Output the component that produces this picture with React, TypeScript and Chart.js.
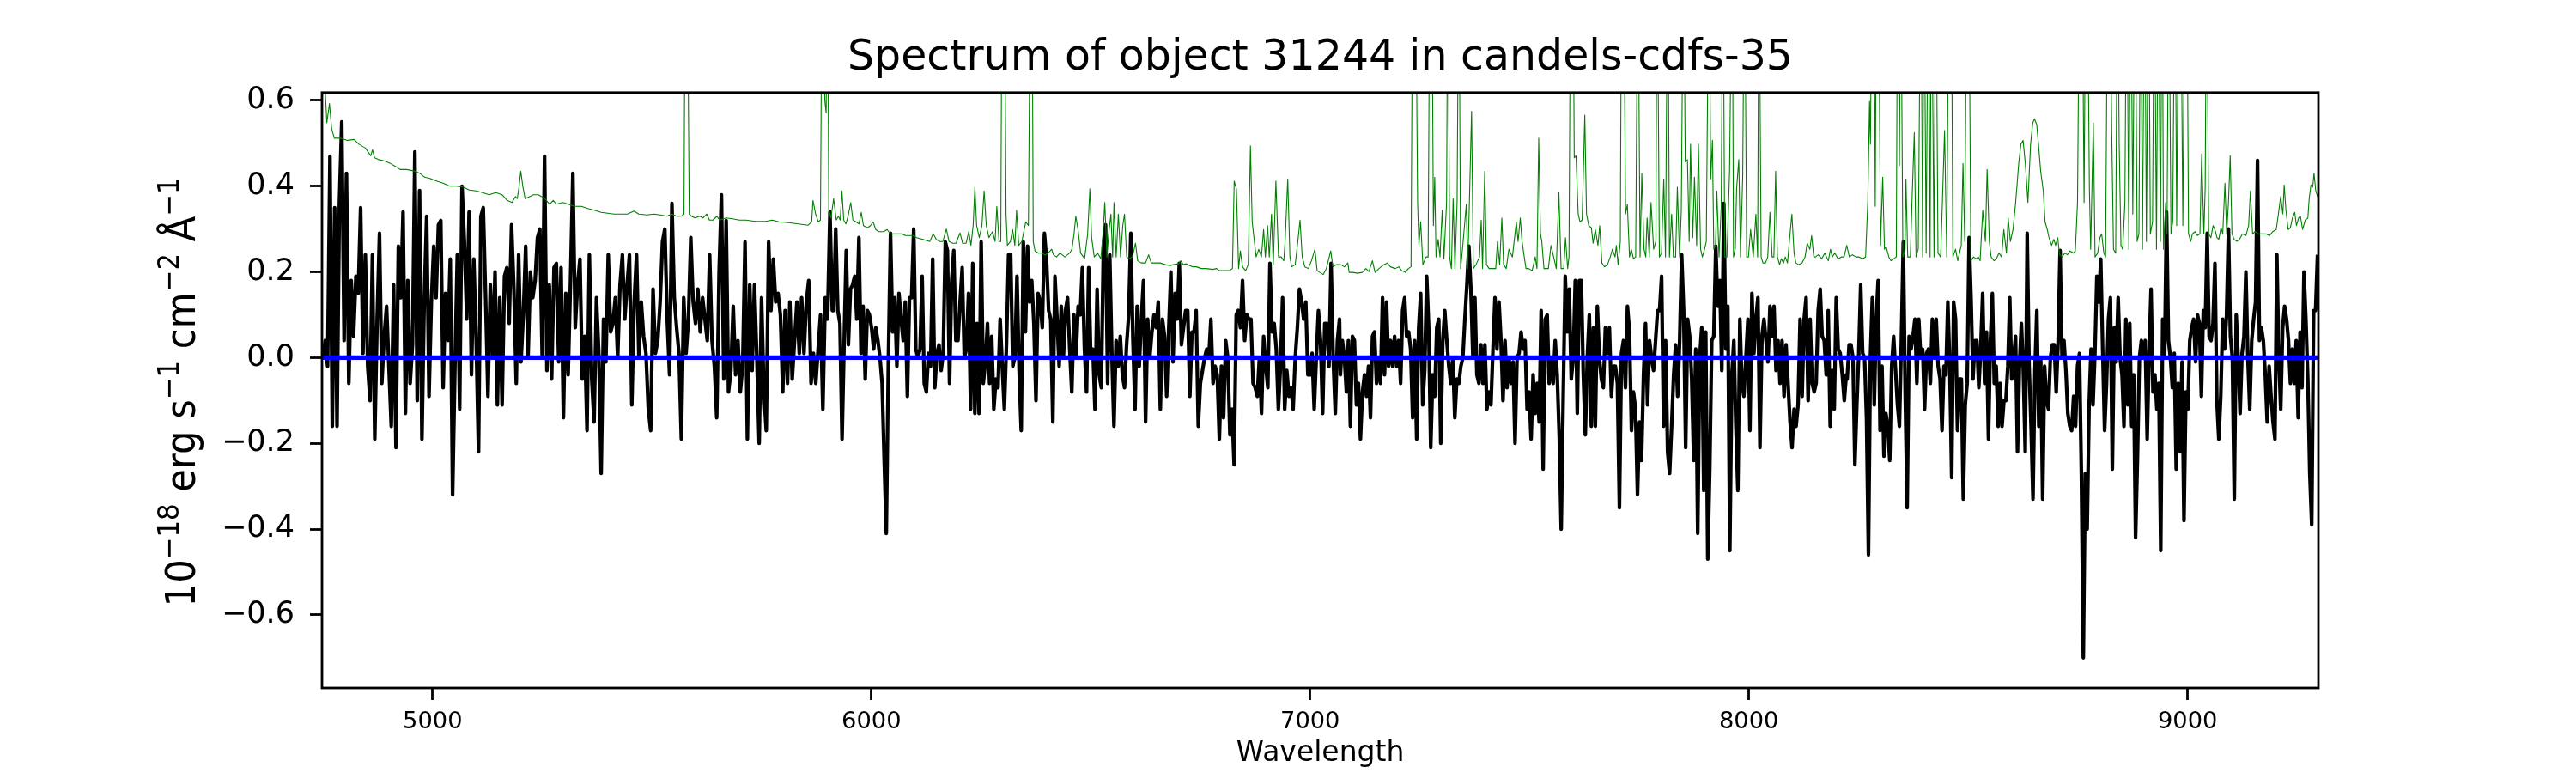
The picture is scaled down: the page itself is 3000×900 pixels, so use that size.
import React, { useEffect, useRef } from 'react';
import { Chart, registerables } from 'chart.js';

Chart.register(...registerables);

const TITLE = 'Spectrum of object 31244 in candels-cdfs-35';
const X_TITLE = 'Wavelength';
// y label pieces: [text, isSuperscript]
const Y_TITLE_PARTS: [string, boolean][] = [
  ['10', false], ['−18', true], [' erg s', false], ['−1', true], [' cm', false], ['−2', true], [' Å', false], ['−1', true],
];

const X_MIN = 4748;
const X_MAX = 9298;
const Y_MIN = -0.7705;
const Y_MAX = 0.6184;

const xTickValues = [5000, 6000, 7000, 8000, 9000];
const xTickLabels = ['5000', '6000', '7000', '8000', '9000'];
const yTickValues = [-0.6, -0.4, -0.2, 0.0, 0.2, 0.4, 0.6];
const yTickLabels = ['−0.6', '−0.4', '−0.2', '0.0', '0.2', '0.4', '0.6'];

// observed flux, four wavelength segments sampled evenly inside each
const fluxRangeA = [4750, 5911];
const fluxA = [
  0.00, 0.04, -0.02, 0.47, -0.16, 0.35, -0.16, 0.36, 0.55, 0.04, 0.43, -0.06, 0.18, 0.05, 0.19, 0.15, 0.35, 0.01, 0.24, -0.02,
  -0.10, 0.24, -0.19, 0.09, 0.29, -0.06, 0.05, 0.12, -0.02, -0.16, 0.17, -0.21, 0.26, 0.14, 0.34, -0.13, 0.18, -0.06, 0.03, 0.48,
  -0.10, 0.39, -0.19, 0.14, 0.33, -0.09, 0.13, 0.26, 0.14, 0.31, 0.32, -0.07, 0.15, 0.04, 0.23, -0.32, -0.02, 0.24, -0.12, 0.40,
  0.27, 0.09, 0.34, -0.04, 0.23, 0.04, -0.22, 0.33, 0.35, 0.14, -0.09, 0.17, 0.00, 0.20, -0.11, 0.14, -0.11, 0.19, 0.21, 0.08,
  0.31, 0.16, -0.06, 0.24, -0.01, 0.10, 0.26, 0.00, 0.20, 0.14, 0.18, 0.28, 0.30, 0.00, 0.47, -0.03, 0.17, -0.05, 0.21, 0.22,
  -0.01, 0.21, -0.14, 0.15, -0.04, 0.18, 0.43, 0.07, 0.17, 0.23, -0.05, 0.05, -0.17, 0.24, -0.05, -0.15, 0.14, 0.01, -0.27, 0.09,
  -0.01, 0.24, 0.06, 0.08, 0.14, 0.00, 0.17, 0.24, 0.09, 0.17, 0.24, -0.11, 0.13, 0.24, 0.00, 0.13, 0.05, 0.01, -0.12, -0.17,
  0.16, 0.01, 0.04, 0.13, 0.27, 0.30, 0.09, -0.04, 0.36, 0.14, 0.07, 0.01, -0.19, 0.14, 0.01, 0.09, 0.28, 0.13, 0.08, 0.16,
  0.06, 0.14, 0.09, 0.04, 0.24, 0.04, -0.02, -0.14, 0.20, 0.38, -0.05, 0.32, -0.08, -0.03, 0.12, -0.04, 0.04, -0.08, -0.02, 0.27,
  -0.19, 0.17, -0.03, 0.17, 0.00, -0.20, 0.14, -0.08, -0.17, 0.27, 0.11, 0.23, 0.13, 0.15, 0.10, -0.08, 0.11, -0.06, 0.13, -0.05,
  0.04, 0.13, 0.01, 0.14, 0.01, 0.13, 0.18, -0.06, 0.01, -0.06, 0.02, 0.10, -0.12, 0.14, 0.09, 0.34, 0.11,
];

const fluxRangeB = [5914, 7067];
const fluxB = [
  0.11, 0.30, 0.11, 0.08, -0.19, 0.04, 0.25, 0.03, 0.16, 0.17, 0.19, 0.09, 0.28, 0.01, 0.12, -0.05, 0.11, 0.10, 0.07, 0.02,
  0.07, 0.04, 0.00, -0.06, -0.24, -0.41, 0.00, 0.29, 0.06, 0.14, -0.02, 0.15, 0.09, 0.04, 0.13, -0.09, 0.14, 0.14, 0.30, 0.02,
  0.00, 0.02, 0.19, -0.06, -0.08, 0.01, -0.02, 0.23, -0.07, 0.01, 0.03, -0.03, 0.01, 0.27, 0.25, -0.06, 0.18, 0.25, 0.04, 0.04,
  0.13, 0.21, 0.00, 0.02, 0.15, -0.12, 0.22, -0.13, 0.08, -0.13, 0.27, -0.06, -0.01, 0.08, -0.06, 0.05, -0.12, -0.05, -0.07, 0.09,
  -0.02, -0.12, 0.03, 0.24, 0.24, -0.02, 0.00, 0.19, -0.03, -0.17, 0.27, 0.06, 0.26, 0.13, 0.18, 0.08, -0.10, 0.15, 0.13, 0.07,
  0.29, 0.23, 0.11, 0.09, -0.15, 0.19, 0.09, -0.02, 0.12, 0.00, 0.11, 0.14, 0.02, -0.08, 0.10, 0.00, 0.12, 0.10, 0.21, 0.02,
  -0.08, 0.21, 0.00, 0.02, -0.12, 0.16, -0.04, -0.07, 0.26, 0.31, -0.06, 0.24, 0.01, -0.16, 0.04, -0.02, 0.05, -0.04, -0.07, 0.03,
  0.10, 0.29, 0.04, -0.12, 0.12, -0.02, 0.09, 0.18, -0.15, 0.09, 0.00, 0.06, 0.10, 0.07, 0.13, -0.12, 0.09, 0.05, -0.09, 0.07,
  0.20, -0.01, 0.15, 0.09, 0.22, 0.03, 0.07, 0.11, 0.11, -0.09, 0.06, 0.06, 0.11, -0.16, -0.06, -0.03, 0.00, 0.02, 0.00, 0.09,
  -0.06, -0.02, -0.04, -0.19, -0.02, -0.14, 0.04, 0.00, -0.18, -0.12, -0.25, 0.10, 0.11, 0.07, 0.18, 0.04, 0.10, 0.09, 0.09, -0.06,
  -0.07, -0.09, 0.00, -0.13, 0.05, -0.02, -0.07, 0.22, 0.06, 0.08, 0.02, -0.12, -0.02, 0.14, -0.12, -0.03, -0.09, -0.07, -0.12, 0.00,
  0.07, 0.16, 0.13, 0.09, 0.13, -0.04, -0.04, 0.01, -0.12, 0.00, 0.11, 0.04, -0.13, 0.08, 0.08, -0.02, 0.22, 0.00, -0.13, 0.04,
  0.09,
];

const fluxRangeC = [7069, 8222];
const fluxC = [
  -0.04, 0.04, 0.00, -0.08, 0.04, -0.16, 0.05, 0.04, -0.11, -0.06, -0.19, -0.08, -0.04, -0.09, -0.02, -0.14, 0.05, 0.06, -0.06, 0.00,
  -0.06, 0.14, -0.04, 0.13, -0.02, 0.04, -0.02, 0.05, -0.02, 0.04, -0.06, 0.11, 0.14, 0.05, 0.06, 0.02, -0.14, 0.04, -0.19, 0.07,
  0.15, -0.11, -0.03, 0.19, 0.07, -0.21, -0.04, -0.09, 0.07, 0.09, -0.20, 0.04, 0.11, 0.04, -0.02, -0.06, 0.00, -0.14, -0.05, -0.06,
  -0.02, 0.00, 0.09, 0.17, 0.26, 0.16, 0.00, 0.14, -0.04, -0.06, 0.03, -0.06, 0.03, -0.12, -0.08, -0.11, 0.02, 0.14, 0.02, 0.13,
  0.04, -0.10, 0.04, -0.07, 0.00, -0.06, -0.01, -0.20, 0.00, 0.01, 0.06, 0.02, 0.04, -0.12, -0.08, -0.19, -0.04, -0.13, -0.06, -0.15,
  0.11, -0.26, 0.09, 0.10, -0.06, 0.00, -0.06, 0.04, -0.04, -0.18, -0.40, -0.09, 0.19, 0.06, 0.16, -0.05, 0.00, 0.18, -0.13, 0.18,
  0.18, -0.04, -0.18, 0.00, 0.10, -0.16, 0.07, -0.16, 0.12, 0.00, -0.05, -0.07, 0.07, 0.01, 0.07, -0.09, -0.02, -0.02, -0.06, -0.35,
  0.01, 0.04, -0.07, 0.12, 0.06, -0.17, -0.08, -0.12, -0.32, -0.15, -0.24, -0.04, 0.08, -0.11, 0.04, 0.00, -0.03, 0.04, 0.11, 0.11,
  0.19, -0.16, 0.04, -0.22, -0.27, -0.16, -0.04, 0.03, -0.09, 0.04, 0.24, 0.11, -0.21, 0.09, 0.05, -0.05, -0.24, 0.02, -0.41, 0.00,
  0.07, -0.31, 0.06, -0.47, -0.26, 0.04, 0.05, 0.26, 0.12, 0.18, -0.03, 0.36, 0.02, 0.12, -0.45, -0.04, 0.04, -0.16, -0.31, 0.09,
  -0.06, -0.09, 0.00, 0.09, -0.17, 0.15, 0.01, 0.09, 0.14, -0.21, 0.05, 0.09, 0.04, -0.01, 0.12, 0.05, 0.12, -0.03, 0.04, -0.06,
  0.04, -0.09, 0.03, -0.06, -0.15, -0.21, -0.12, -0.16, -0.11, 0.09, -0.09, 0.09, 0.14, -0.10, 0.09, -0.06, -0.08, -0.06, 0.11, 0.16,
  0.05, 0.04, -0.04, 0.11, -0.16, -0.03, -0.12, 0.14, 0.02, 0.01, -0.04, -0.10, -0.04,
];

const fluxRangeD = [8224, 9296];
const fluxD = [
  -0.05, 0.03, 0.03, 0.00, -0.25, -0.11, 0.01, 0.17, 0.01, 0.00, -0.14, -0.46, 0.00, 0.14, -0.11, 0.09, 0.18, -0.17, -0.02, -0.23,
  -0.13, -0.16, -0.24, -0.02, 0.05, -0.03, -0.11, -0.16, 0.04, 0.27, -0.09, -0.35, 0.05, 0.02, 0.05, 0.09, -0.06, 0.09, 0.00, 0.02,
  -0.12, 0.01, 0.02, -0.06, 0.09, 0.00, 0.09, -0.02, -0.05, -0.17, -0.02, -0.04, 0.13, -0.02, -0.28, 0.13, 0.09, -0.17, -0.05, -0.05,
  -0.33, -0.11, -0.06, 0.28, 0.14, -0.05, 0.04, 0.04, -0.07, 0.02, 0.15, -0.06, 0.06, -0.19, 0.04, 0.15, -0.06, -0.02, -0.16, -0.06,
  -0.16, -0.10, -0.10, -0.02, 0.14, -0.05, 0.00, 0.05, -0.22, -0.02, 0.08, -0.03, -0.22, 0.29, -0.02, -0.16, -0.33, -0.03, 0.11, -0.16,
  0.00, -0.33, -0.02, -0.10, -0.12, 0.00, 0.03, 0.03, -0.08, 0.04, 0.25, 0.00, 0.04, -0.03, -0.13, -0.16, -0.17, -0.09, -0.16, -0.02,
  0.01, -0.27, -0.70, -0.27, -0.40, -0.11, 0.02, -0.11, 0.01, 0.19, 0.13, 0.23, 0.02, -0.17, -0.06, 0.09, 0.14, -0.26, 0.07, -0.01,
  0.14, 0.00, -0.04, -0.16, 0.09, -0.11, 0.08, -0.16, -0.04, -0.42, -0.23, 0.00, 0.04, 0.00, 0.04, -0.19, 0.01, 0.16, -0.08, -0.04,
  -0.12, -0.06, -0.45, 0.09, 0.00, 0.34, 0.04, 0.00, -0.07, 0.01, -0.26, -0.06, -0.22, -0.01, -0.38, -0.08, -0.12, 0.04, 0.07, 0.09,
  -0.01, 0.10, 0.08, -0.09, 0.11, 0.07, 0.29, 0.05, 0.04, 0.08, 0.22, -0.10, -0.19, -0.09, 0.09, 0.02, 0.10, 0.30, 0.05, 0.00,
  -0.33, 0.10, 0.00, -0.13, 0.01, 0.05, 0.20, 0.00, -0.12, 0.04, 0.09, 0.13, 0.46, 0.04, 0.07, 0.04, -0.04, -0.15, -0.02, -0.09,
  -0.15, -0.19, 0.24, 0.00, -0.12, 0.07, 0.12, 0.09, 0.04, -0.06, 0.02, -0.06, 0.04, -0.14, 0.06, -0.07, 0.20, 0.09, -0.05, -0.27,
  -0.39, 0.11, 0.11, 0.24,
];

// sky / noise spectrum: [wavelength, value]
const skyA = [
  [4750, 0.66], [4755, 0.63], [4759, 0.548], [4765, 0.593], [4770, 0.534], [4776, 0.512], [4791, 0.512], [4806, 0.507],
  [4821, 0.509], [4832, 0.498], [4847, 0.489], [4859, 0.471], [4863, 0.485], [4868, 0.466], [4877, 0.462], [4889, 0.459],
  [4904, 0.453], [4919, 0.444], [4926, 0.439], [4941, 0.439], [4956, 0.436], [4971, 0.430], [4982, 0.421], [4994, 0.418],
  [5009, 0.412], [5024, 0.407], [5039, 0.400], [5054, 0.400], [5069, 0.398], [5084, 0.391], [5099, 0.389], [5114, 0.385],
  [5129, 0.380], [5144, 0.385], [5159, 0.380], [5170, 0.367], [5181, 0.362], [5189, 0.376], [5193, 0.371], [5197, 0.398],
  [5201, 0.435], [5206, 0.398], [5211, 0.371], [5222, 0.376], [5230, 0.380], [5241, 0.380], [5256, 0.371], [5267, 0.358],
  [5275, 0.367], [5282, 0.358], [5297, 0.362], [5309, 0.358], [5324, 0.353], [5339, 0.353], [5354, 0.348], [5369, 0.344],
  [5384, 0.339], [5399, 0.337], [5414, 0.335], [5429, 0.335], [5444, 0.335], [5459, 0.342], [5470, 0.335], [5489, 0.333],
  [5504, 0.335], [5519, 0.333], [5534, 0.330], [5545, 0.335], [5556, 0.330], [5567, 0.330], [5573, 0.335], [5576, 1.0],
  [5580, 1.0], [5585, 0.335], [5590, 0.330], [5598, 0.326], [5609, 0.330], [5616, 0.326], [5625, 0.335], [5631, 0.321],
  [5639, 0.321], [5648, 0.330], [5654, 0.321], [5669, 0.326], [5684, 0.324], [5699, 0.321], [5714, 0.321], [5736, 0.318],
  [5759, 0.318], [5774, 0.321], [5789, 0.317], [5811, 0.315], [5834, 0.312], [5856, 0.309], [5864, 0.317], [5867, 0.367],
  [5873, 0.335], [5879, 0.317], [5884, 0.321], [5888, 1.0], [5894, 0.60], [5897, 0.571], [5900, 1.0],
];

const skyB = [
  [5903, 0.344], [5908, 0.326], [5914, 0.371], [5920, 0.321], [5925, 0.330], [5929, 0.321], [5933, 0.389], [5937, 0.321],
  [5942, 0.312], [5947, 0.330], [5953, 0.362], [5958, 0.321], [5965, 0.317], [5972, 0.312], [5977, 0.339], [5982, 0.308],
  [5991, 0.303], [5998, 0.308], [6004, 0.317], [6010, 0.299], [6017, 0.294], [6028, 0.294], [6036, 0.299], [6043, 0.289],
  [6058, 0.289], [6070, 0.289], [6077, 0.285], [6088, 0.285], [6096, 0.285], [6103, 0.280], [6118, 0.276], [6133, 0.271],
  [6141, 0.289], [6148, 0.276], [6156, 0.271], [6163, 0.271], [6171, 0.300], [6177, 0.271], [6186, 0.267], [6193, 0.267],
  [6202, 0.291], [6208, 0.267], [6216, 0.267], [6222, 0.294], [6227, 0.262], [6232, 0.308], [6236, 0.398], [6240, 0.308],
  [6246, 0.280], [6252, 0.308], [6257, 0.389], [6262, 0.308], [6268, 0.280], [6276, 0.294], [6282, 0.271], [6286, 0.353],
  [6291, 0.271], [6295, 0.271], [6298, 1.0], [6303, 1.0], [6307, 0.335], [6310, 0.262], [6317, 0.271], [6322, 0.299],
  [6327, 0.262], [6331, 0.344], [6336, 0.262], [6343, 0.271], [6352, 0.317], [6358, 0.308], [6363, 1.0], [6366, 1.0],
  [6369, 0.271], [6373, 0.249], [6381, 0.244], [6388, 0.244], [6396, 0.240], [6403, 0.244], [6411, 0.253], [6415, 0.240],
  [6422, 0.235], [6430, 0.244], [6441, 0.235], [6452, 0.244], [6457, 0.253], [6462, 0.289], [6466, 0.330], [6471, 0.299],
  [6477, 0.244], [6486, 0.231], [6493, 0.289], [6498, 0.394], [6502, 0.280], [6508, 0.235], [6516, 0.244], [6523, 0.231],
  [6528, 0.289], [6532, 0.362], [6537, 0.235], [6541, 0.289], [6546, 0.335], [6550, 0.235], [6553, 0.362], [6558, 0.235],
  [6563, 0.335], [6568, 0.235], [6573, 0.308], [6577, 0.335], [6582, 0.235], [6587, 0.231], [6595, 0.235], [6602, 0.267],
  [6607, 0.226], [6615, 0.221], [6625, 0.221], [6632, 0.240], [6638, 0.221], [6647, 0.221], [6658, 0.221], [6670, 0.217],
  [6681, 0.215], [6688, 0.217], [6700, 0.219], [6705, 0.226], [6711, 0.217], [6718, 0.219], [6726, 0.215], [6733, 0.212],
  [6741, 0.212], [6752, 0.208], [6763, 0.208], [6778, 0.206], [6787, 0.208], [6793, 0.203], [6805, 0.203], [6816, 0.203],
  [6823, 0.208], [6827, 0.412], [6832, 0.394], [6837, 0.208], [6841, 0.249], [6846, 0.212], [6853, 0.203], [6859, 0.217],
  [6864, 0.494], [6868, 0.317], [6873, 0.271], [6877, 0.235], [6883, 0.253], [6889, 0.235], [6894, 0.299], [6898, 0.235],
  [6903, 0.308], [6907, 0.235], [6912, 0.335], [6916, 0.217], [6922, 0.412], [6928, 0.235], [6934, 0.235], [6940, 0.226],
  [6943, 0.271], [6949, 0.417], [6954, 0.235], [6958, 0.212], [6966, 0.217], [6972, 0.271], [6977, 0.321], [6982, 0.235],
  [6988, 0.212], [6996, 0.208], [7003, 0.226], [7011, 0.253], [7016, 0.203], [7022, 0.199], [7030, 0.194], [7037, 0.208],
  [7047, 0.249], [7052, 0.212], [7060, 0.217],
];

const skyC = [
  [7070, 0.217], [7078, 0.212], [7086, 0.221], [7089, 0.199], [7097, 0.199], [7108, 0.197], [7119, 0.199], [7127, 0.208],
  [7134, 0.201], [7142, 0.226], [7148, 0.199], [7157, 0.208], [7168, 0.217], [7176, 0.221], [7183, 0.212], [7194, 0.208],
  [7202, 0.212], [7209, 0.203], [7217, 0.199], [7224, 0.208], [7230, 0.212], [7234, 1.0], [7240, 1.0], [7245, 0.362],
  [7248, 0.262], [7252, 0.317], [7257, 0.217], [7264, 0.235], [7269, 0.235], [7273, 1.0], [7277, 1.0], [7281, 0.308],
  [7284, 0.421], [7287, 0.235], [7292, 0.276], [7296, 0.235], [7301, 0.344], [7305, 0.231], [7311, 0.362], [7314, 1.0],
  [7318, 0.235], [7322, 0.208], [7326, 0.371], [7330, 0.208], [7335, 0.362], [7339, 1.0], [7343, 0.208], [7348, 0.262],
  [7356, 0.358], [7359, 0.208], [7363, 0.362], [7368, 0.575], [7372, 0.208], [7378, 0.217], [7386, 0.235], [7390, 0.321],
  [7393, 0.208], [7398, 0.435], [7402, 0.217], [7408, 0.208], [7416, 0.208], [7423, 0.208], [7427, 0.271], [7432, 0.217],
  [7437, 0.326], [7441, 0.217], [7447, 0.208], [7453, 0.253], [7461, 0.235], [7464, 0.262], [7470, 0.317], [7474, 0.271],
  [7479, 0.326], [7483, 0.271], [7488, 0.235], [7492, 0.208], [7498, 0.208], [7506, 0.203], [7513, 0.235], [7517, 0.208],
  [7521, 0.512], [7525, 0.289], [7528, 0.271], [7533, 0.208], [7537, 0.208], [7543, 0.208], [7549, 0.262], [7555, 0.235],
  [7561, 0.208], [7567, 0.385], [7572, 0.208], [7578, 0.208], [7582, 0.280], [7587, 0.208], [7590, 0.235], [7594, 1.0],
  [7599, 1.0], [7602, 0.466], [7606, 0.471], [7611, 0.335], [7615, 0.317], [7620, 0.321], [7626, 0.566], [7630, 0.335],
  [7635, 0.308], [7641, 0.303], [7645, 0.267], [7650, 0.299], [7656, 0.262], [7660, 0.308], [7665, 0.221], [7671, 0.212],
  [7678, 0.217], [7684, 0.235], [7689, 0.253], [7695, 0.235], [7698, 0.262], [7702, 0.217], [7707, 0.271], [7710, 1.0],
  [7714, 1.0], [7719, 0.335], [7723, 0.358], [7728, 0.235], [7732, 0.253], [7737, 0.231], [7742, 0.235], [7747, 1.0],
  [7752, 0.235], [7756, 0.430], [7761, 0.253], [7765, 0.235], [7768, 0.326], [7773, 0.235], [7777, 0.362], [7783, 0.253],
  [7788, 0.271], [7791, 1.0], [7796, 0.235], [7801, 0.244], [7806, 0.417], [7810, 0.235], [7815, 1.0], [7819, 0.235],
  [7824, 0.335], [7828, 0.235], [7833, 0.235], [7837, 0.398], [7842, 0.235], [7846, 0.344], [7851, 1.0], [7855, 0.457],
  [7860, 0.462], [7864, 0.271], [7867, 0.498], [7872, 0.280], [7876, 0.421], [7881, 0.262], [7885, 0.498], [7890, 0.253],
  [7894, 0.235], [7899, 0.253], [7903, 0.271], [7909, 1.0], [7913, 0.417], [7917, 0.507], [7920, 0.253], [7924, 0.262],
  [7927, 0.389], [7932, 0.235], [7937, 0.353], [7941, 1.0], [7945, 0.235], [7950, 0.235], [7956, 0.435], [7962, 1.0],
  [7965, 0.235], [7969, 0.253], [7972, 0.394], [7977, 0.462], [7981, 0.235], [7986, 0.426], [7990, 1.0], [7995, 0.235],
  [7999, 0.235], [8004, 0.299], [8010, 0.235], [8016, 0.335], [8020, 0.235], [8023, 1.0], [8028, 0.235], [8032, 0.221],
  [8038, 0.221], [8043, 0.235], [8048, 0.339], [8053, 0.235], [8057, 0.235], [8061, 0.435], [8065, 0.235], [8070, 0.217],
  [8074, 0.231], [8079, 0.221], [8083, 0.235], [8088, 0.221], [8093, 0.280], [8098, 0.335], [8103, 0.244], [8107, 0.221],
  [8113, 0.217], [8121, 0.221], [8128, 0.235], [8133, 0.267], [8139, 0.253], [8143, 0.285], [8148, 0.235], [8152, 0.235],
  [8158, 0.240], [8166, 0.231], [8173, 0.244], [8181, 0.226], [8186, 0.253], [8190, 0.235], [8196, 0.244], [8203, 0.231],
  [8211, 0.235],
];

const skyD = [
  [8217, 0.235], [8223, 0.262], [8229, 0.235], [8236, 0.240], [8244, 0.235], [8251, 0.235], [8259, 0.231], [8266, 0.235],
  [8271, 0.362], [8275, 0.598], [8277, 0.498], [8281, 1.0], [8285, 1.0], [8288, 0.353], [8291, 1.0], [8295, 1.0],
  [8300, 0.262], [8305, 0.421], [8309, 0.253], [8313, 0.258], [8319, 0.235], [8324, 0.226], [8330, 0.231], [8336, 0.235],
  [8339, 1.0], [8343, 0.448], [8346, 1.0], [8351, 0.235], [8356, 0.253], [8358, 0.417], [8362, 0.235], [8368, 0.235],
  [8372, 0.371], [8377, 0.525], [8381, 0.235], [8386, 0.253], [8392, 1.0], [8396, 0.235], [8399, 1.0], [8404, 0.244],
  [8409, 1.0], [8413, 0.235], [8416, 1.0], [8422, 0.235], [8426, 1.0], [8431, 0.244], [8437, 0.235], [8441, 0.362],
  [8446, 0.530], [8451, 0.235], [8456, 1.0], [8461, 1.0], [8465, 0.235], [8471, 0.253], [8476, 0.226], [8484, 0.262],
  [8488, 0.453], [8492, 0.271], [8497, 1.0], [8501, 1.0], [8506, 0.226], [8512, 0.235], [8518, 0.231], [8523, 0.235],
  [8527, 0.226], [8533, 0.344], [8539, 0.271], [8543, 0.439], [8548, 0.271], [8552, 0.235], [8559, 0.226], [8564, 0.231],
  [8570, 0.244], [8576, 0.235], [8581, 0.299], [8587, 0.244], [8591, 0.326], [8596, 0.271], [8602, 0.299], [8608, 0.362],
  [8615, 0.453], [8620, 0.498], [8625, 0.507], [8630, 0.453], [8636, 0.362], [8642, 0.498], [8647, 0.548], [8651, 0.557],
  [8656, 0.544], [8660, 0.498], [8665, 0.435], [8671, 0.389], [8675, 0.317], [8680, 0.299], [8684, 0.280], [8690, 0.262],
  [8695, 0.276], [8699, 0.262], [8704, 0.280], [8708, 0.240], [8714, 0.235], [8720, 0.244], [8726, 0.240], [8732, 0.249],
  [8740, 0.244], [8744, 0.249], [8749, 0.362], [8754, 1.0], [8759, 1.0], [8764, 0.362], [8768, 1.0], [8771, 1.0],
  [8776, 0.398], [8779, 0.253], [8785, 0.548], [8789, 0.235], [8795, 0.244], [8800, 0.280], [8804, 0.289], [8809, 0.244],
  [8813, 0.235], [8818, 1.0], [8822, 1.0], [8827, 0.525], [8831, 0.253], [8836, 0.244], [8840, 1.0], [8844, 0.498],
  [8848, 0.262], [8852, 0.253], [8857, 0.362], [8861, 1.0], [8866, 0.253], [8870, 1.0], [8875, 0.335], [8880, 1.0],
  [8885, 0.271], [8889, 0.289], [8893, 1.0], [8897, 0.253], [8902, 1.0], [8906, 0.271], [8911, 1.0], [8915, 0.289],
  [8920, 0.317], [8924, 1.0], [8929, 0.253], [8933, 1.0], [8938, 0.271], [8942, 1.0], [8945, 0.253], [8950, 0.362],
  [8953, 0.289], [8957, 1.0], [8962, 0.289], [8966, 0.317], [8971, 1.0], [8975, 0.308], [8980, 1.0], [8984, 1.0],
  [8989, 0.308], [8994, 1.0], [8998, 1.0], [9002, 0.289], [9007, 0.271], [9011, 0.289], [9017, 0.294], [9022, 0.285],
  [9028, 0.289], [9032, 0.475], [9037, 0.289], [9040, 0.398], [9043, 1.0], [9048, 0.289], [9053, 0.280], [9058, 0.308],
  [9062, 0.299], [9067, 0.280], [9071, 0.276], [9076, 0.303], [9080, 0.289], [9085, 0.407], [9089, 0.289], [9093, 0.362],
  [9097, 0.471], [9101, 0.289], [9106, 0.276], [9112, 0.271], [9118, 0.276], [9125, 0.289], [9133, 0.285], [9139, 0.308],
  [9143, 0.389], [9148, 0.289], [9154, 0.294], [9161, 0.289], [9170, 0.289], [9178, 0.289], [9187, 0.285], [9194, 0.294],
  [9202, 0.299], [9208, 0.344], [9212, 0.376], [9217, 0.335], [9220, 0.403], [9224, 0.344], [9229, 0.299], [9234, 0.303],
  [9239, 0.326], [9244, 0.339], [9248, 0.308], [9253, 0.326], [9257, 0.330], [9262, 0.299], [9268, 0.321], [9274, 0.326],
  [9277, 0.371], [9281, 0.403], [9285, 0.398], [9288, 0.430], [9292, 0.389], [9296, 0.376], [9300, 0.376],
];

// continuum model (flat zero)
const modelWl = [4750, 9296];
const modelFlux = [0, 0];

const FONT = 'DejaVu Sans';

function buildFlux() {
  const segs: [number[], number[]][] = [
    [fluxRangeA, fluxA],
    [fluxRangeB, fluxB],
    [fluxRangeC, fluxC],
    [fluxRangeD, fluxD],
  ];
  const out: { x: number; y: number }[] = [];
  segs.forEach(([range, vals]) => {
    const n = vals.length;
    vals.forEach((v, i) => {
      out.push({ x: range[0] + ((range[1] - range[0]) * i) / (n - 1), y: v });
    });
  });
  return out;
}

const framePlugin = {
  id: 'frame',
  afterDatasetsDraw(chart: any) {
    const { ctx, chartArea } = chart;
    ctx.save();
    ctx.strokeStyle = '#000';
    ctx.lineWidth = 2.8;
    ctx.strokeRect(chartArea.left, chartArea.top, chartArea.right - chartArea.left, chartArea.bottom - chartArea.top);
    ctx.restore();
  },
};

// y-axis label with real superscripts (mathtext-like)
const yLabelPlugin = {
  id: 'yLabel',
  afterDraw(chart: any) {
    const { ctx, chartArea } = chart;
    const main = 48;
    const sup = 34;
    const raise = 18.4;
    const baselineX = 226.5;
    const targetLen = 500;
    ctx.save();
    ctx.fillStyle = '#000';
    ctx.textBaseline = 'alphabetic';
    ctx.textAlign = 'left';
    let total = 0;
    const widths = Y_TITLE_PARTS.map(([t, isSup]) => {
      ctx.font = `${isSup ? sup : main}px "${FONT}"`;
      const w = ctx.measureText(t).width;
      total += w;
      return w;
    });
    const stretch = targetLen / total;
    ctx.translate(baselineX, (chartArea.top + chartArea.bottom) / 2 + 2);
    ctx.rotate(-Math.PI / 2);
    ctx.scale(stretch, 1);
    let x = -total / 2;
    Y_TITLE_PARTS.forEach(([t, isSup], i) => {
      ctx.font = `${isSup ? sup : main}px "${FONT}"`;
      ctx.fillText(t, x, isSup ? -raise : 0);
      x += widths[i];
    });
    ctx.restore();
  },
};

export default function App() {
  const ref = useRef<HTMLCanvasElement | null>(null);

  useEffect(() => {
    if (!ref.current) return;
    Chart.defaults.font.family = FONT;
    Chart.defaults.color = '#000';
    const sky = [...skyA, ...skyB, ...skyC, ...skyD].map(([x, y]) => ({ x, y }));
    const model = modelWl.map((x, i) => ({ x, y: modelFlux[i] }));
    const chart = new Chart(ref.current, {
      type: 'line',
      data: {
        datasets: [
          {
            label: 'model',
            data: model,
            borderColor: '#0000ff',
            borderWidth: 5.2,
            pointRadius: 0,
            fill: false,
          },
          {
            label: 'sky',
            data: sky,
            borderColor: '#008000',
            borderWidth: 1.1,
            pointRadius: 0,
            fill: false,
            borderJoinStyle: 'round',
          },
          {
            label: 'flux',
            data: buildFlux(),
            borderColor: '#000000',
            borderWidth: 4.2,
            pointRadius: 0,
            fill: false,
            borderJoinStyle: 'round',
          },
        ],
      },
      options: {
        animation: false,
        responsive: false,
        devicePixelRatio: 1,
        events: [],
        layout: { padding: { left: 0, right: 300, top: 0, bottom: 0 } },
        plugins: {
          legend: { display: false },
          tooltip: { enabled: false },
          title: {
            display: true,
            fullSize: false,
            text: TITLE,
            color: '#000',
            font: { family: FONT, size: 49, weight: 'normal' },
            padding: { top: 39, bottom: 10 },
          },
        },
        scales: {
          x: {
            type: 'linear',
            min: X_MIN,
            max: X_MAX,
            afterBuildTicks: (scale: any) => {
              scale.ticks = xTickValues.map((value) => ({ value }));
            },
            afterFit: (scale: any) => {
              scale.height = 99;
            },
            border: { display: false },
            grid: {
              display: true,
              drawOnChartArea: false,
              drawTicks: true,
              tickLength: 14,
              tickWidth: 2.8,
              tickColor: '#000',
            },
            ticks: {
              autoSkip: false,
              maxRotation: 0,
              padding: 10,
              color: '#000',
              font: { family: FONT, size: 27.3 },
              callback: (value: any) => {
                const i = xTickValues.indexOf(Number(value));
                return i >= 0 ? xTickLabels[i] : '';
              },
            },
            title: {
              display: true,
              text: X_TITLE,
              color: '#000',
              font: { family: FONT, size: 33 },
              padding: { top: 0, bottom: 3 },
            },
          },
          y: {
            type: 'linear',
            min: Y_MIN,
            max: Y_MAX,
            afterBuildTicks: (scale: any) => {
              scale.ticks = yTickValues.map((value) => ({ value }));
            },
            afterFit: (scale: any) => {
              scale.width = 375;
            },
            border: { display: false },
            grid: {
              display: true,
              drawOnChartArea: false,
              drawTicks: true,
              tickLength: 14,
              tickWidth: 2.8,
              tickColor: '#000',
            },
            ticks: {
              autoSkip: false,
              padding: 18,
              color: '#000',
              font: { family: FONT, size: 35 },
              callback: (value: any) => {
                const v = Number(value);
                const i = yTickValues.findIndex((t) => Math.abs(t - v) < 1e-6);
                return i >= 0 ? yTickLabels[i] : '';
              },
            },
            title: { display: false },
          },
        },
      },
      plugins: [framePlugin, yLabelPlugin],
    });
    return () => chart.destroy();
  }, []);

  return (
    <div style={{ position: 'absolute', left: 0, top: 0, width: 3000, height: 900, background: '#fff' }}>
      <canvas ref={ref} width={3000} height={900} style={{ display: 'block', width: 3000, height: 900 }} />
    </div>
  );
}
